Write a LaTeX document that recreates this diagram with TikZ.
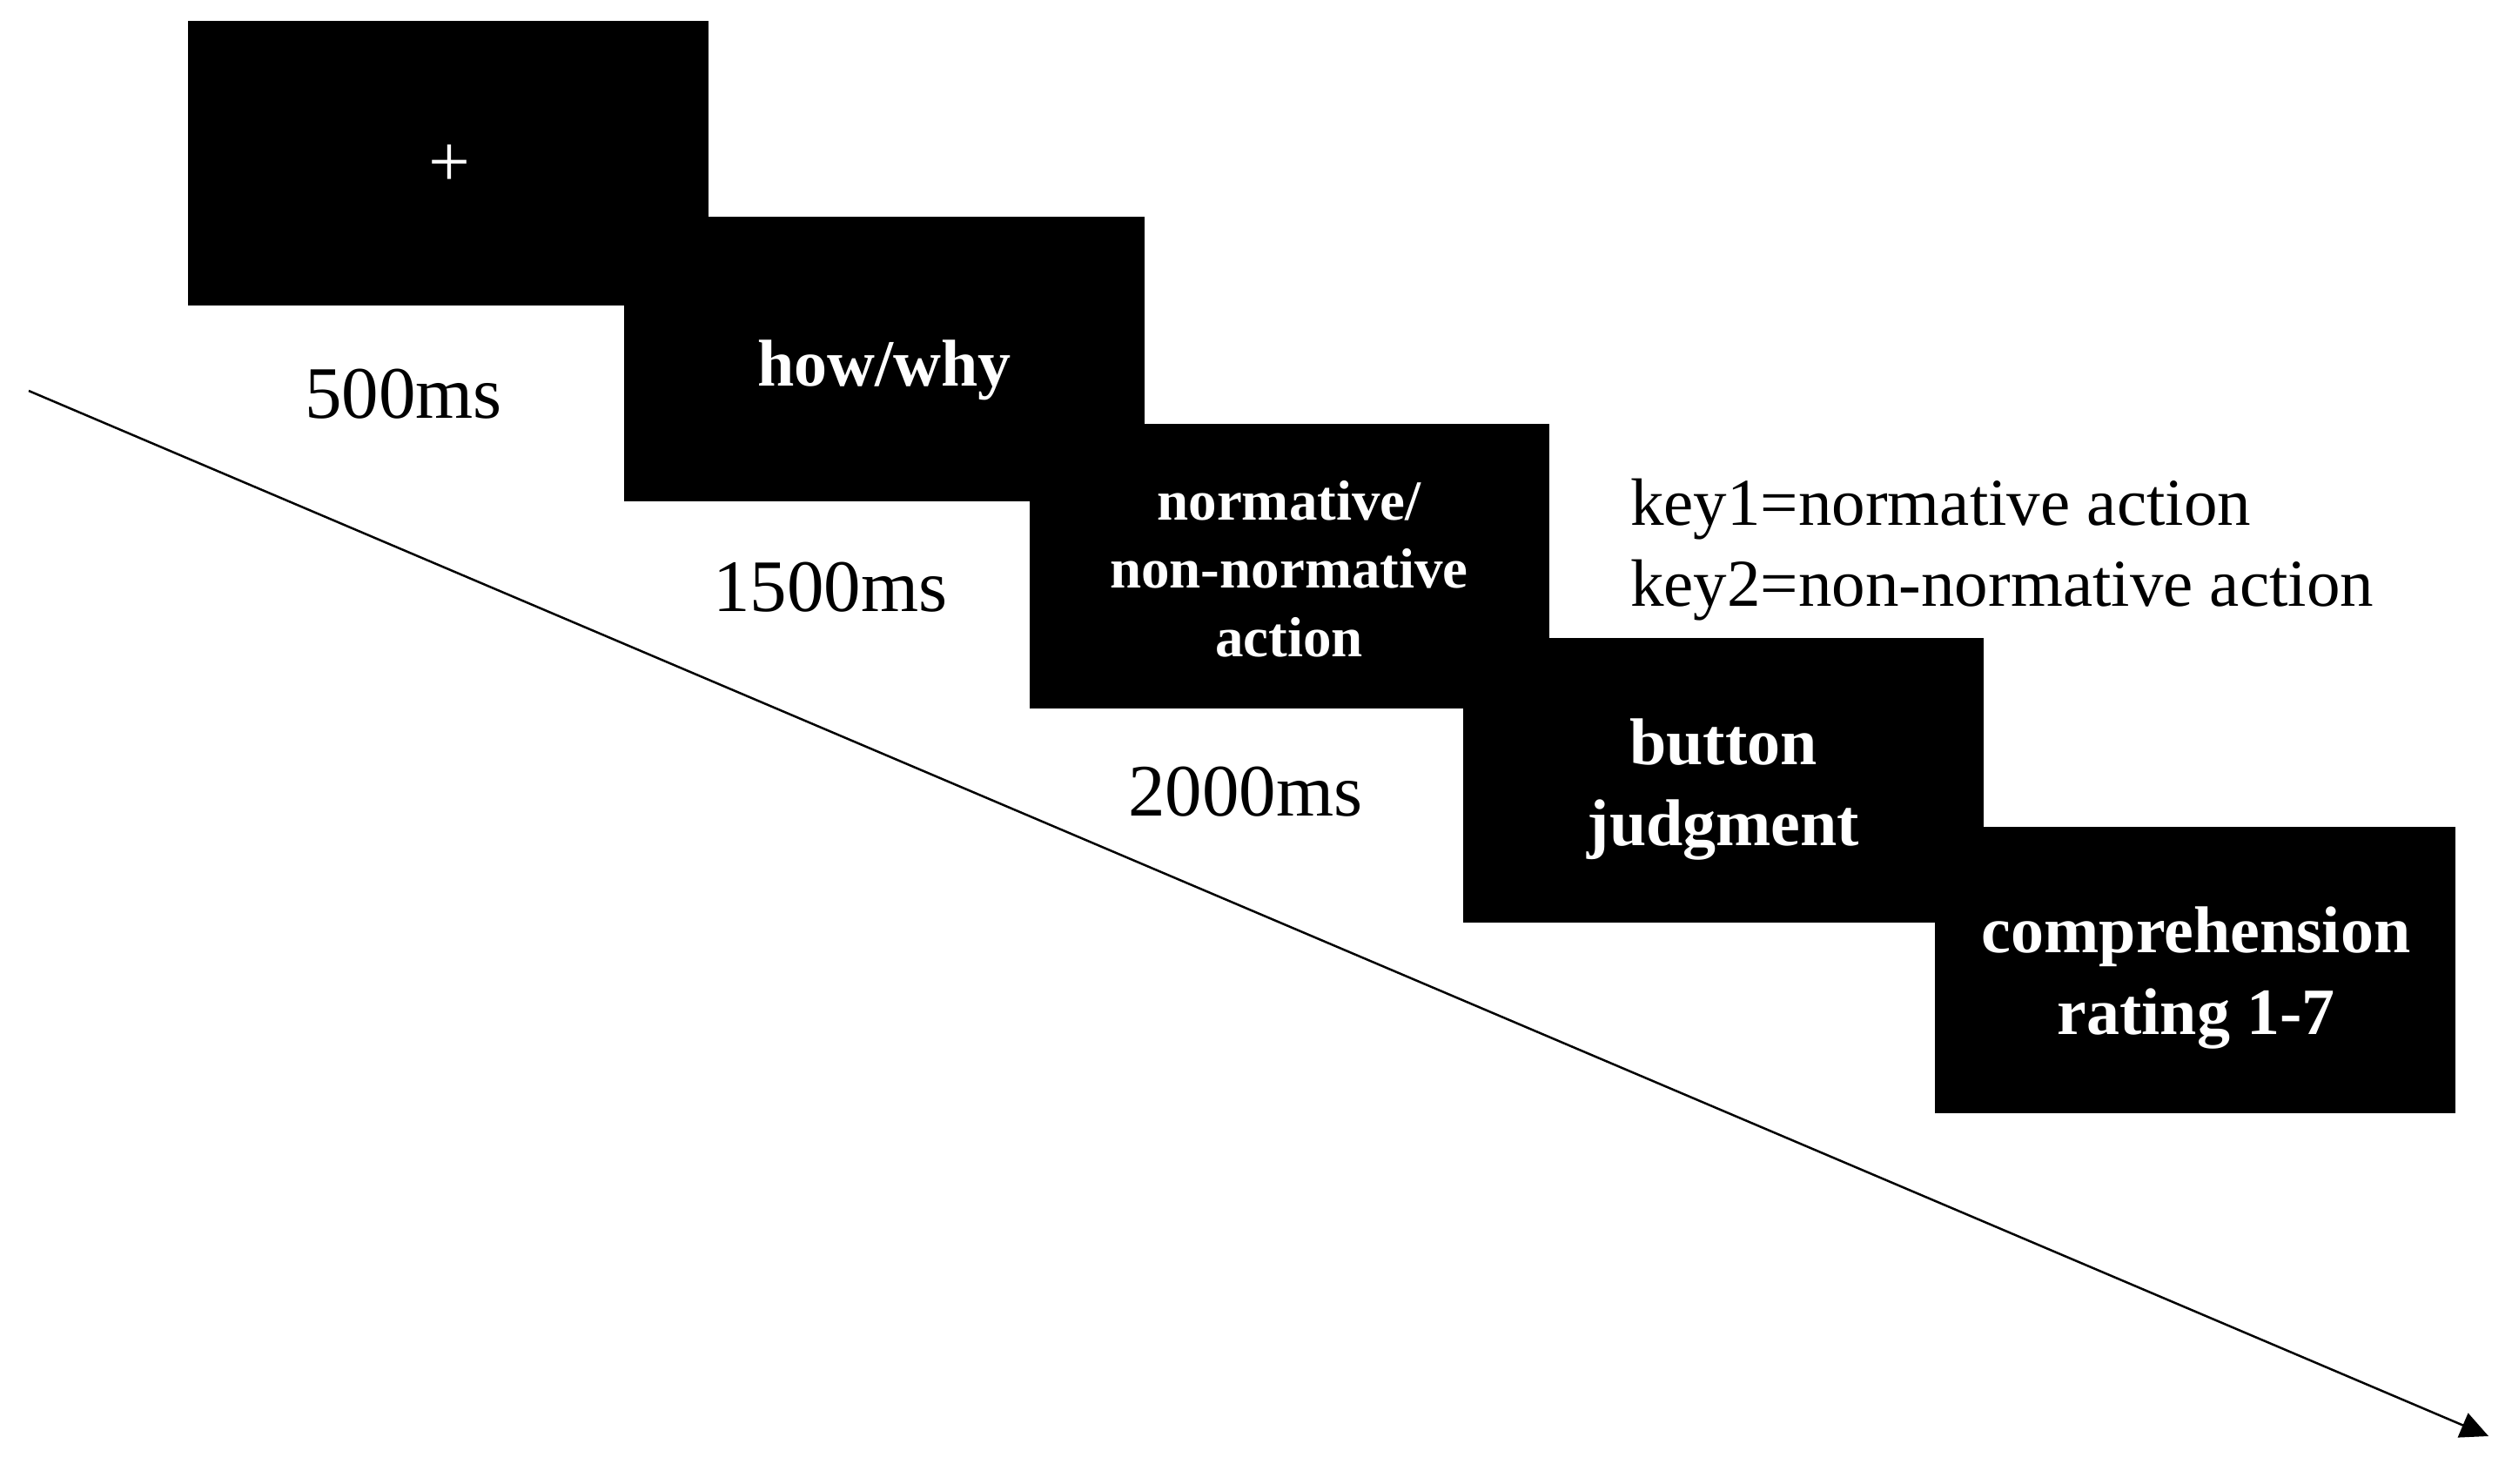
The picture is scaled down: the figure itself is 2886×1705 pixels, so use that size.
\documentclass[tikz,border=0pt]{standalone}
\usepackage{fontspec}
\setmainfont{Liberation Serif}
\usetikzlibrary{arrows.meta}
\begin{document}
\begin{tikzpicture}[x=1pt,y=-1pt,
  screen/.style={fill=black,draw=none,inner sep=0pt,outer sep=0pt,anchor=north west,minimum width=598pt,minimum height=327pt},
  boxtxt/.style={text=white,inner sep=0pt,anchor=base,font=\fontsize{76}{91}\selectfont\bfseries},
  smalltxt/.style={text=white,inner sep=0pt,anchor=base,font=\fontsize{65}{78}\selectfont\bfseries},
  timetxt/.style={text=black,inner sep=0pt,anchor=base west,font=\fontsize{85}{102}\selectfont},
  keytxt/.style={text=black,inner sep=0pt,anchor=base west,font=\fontsize{77}{92}\selectfont},
  timeline/.style={line width=2.5pt,-{Triangle[length=32pt,width=30pt]}}]
\useasboundingbox (0,0) rectangle (2886,1705);
% screens
\node[screen] (b1) at (216,24) {};
\node[screen] (b2) at (717,249) {};
\node[screen,minimum width=597pt] (b3) at (1183,487) {};
\node[screen] (b4) at (1681,733) {};
\node[screen,minimum height=329pt] (b5) at (2223,950) {};
% screen texts
\node[text=white,inner sep=0pt,anchor=center,font=\fontsize{85}{102}\selectfont] (t1) at (516,190) {+};
\node[boxtxt] (t2) at (1016,443) {how/why};
\node[smalltxt] (t3a) at (1481,597) {normative/};
\node[smalltxt] (t3b) at (1481,675) {non-normative};
\node[smalltxt] (t3c) at (1481,754) {action};
\node[boxtxt] (t4a) at (1980,878) {button};
\node[boxtxt] (t4b) at (1980,971) {judgment};
\node[boxtxt] (t5a) at (2523,1094) {comprehension};
\node[boxtxt] (t5b) at (2523,1188) {rating 1-7};
% durations
\node[timetxt] (d1) at (350,480) {500ms};
\node[timetxt] (d2) at (819,702) {1500ms};
\node[timetxt] (d3) at (1296,937) {2000ms};
% keys
\node[keytxt] (k1) at (1873,603) {key1=normative action};
\node[keytxt] (k2) at (1873,696) {key2=non-normative action};
% time arrow
\coordinate (ts) at (33,449);
\coordinate (te) at (2859,1650);
\draw[timeline] (ts) -- (te);
\end{tikzpicture}
\end{document}
